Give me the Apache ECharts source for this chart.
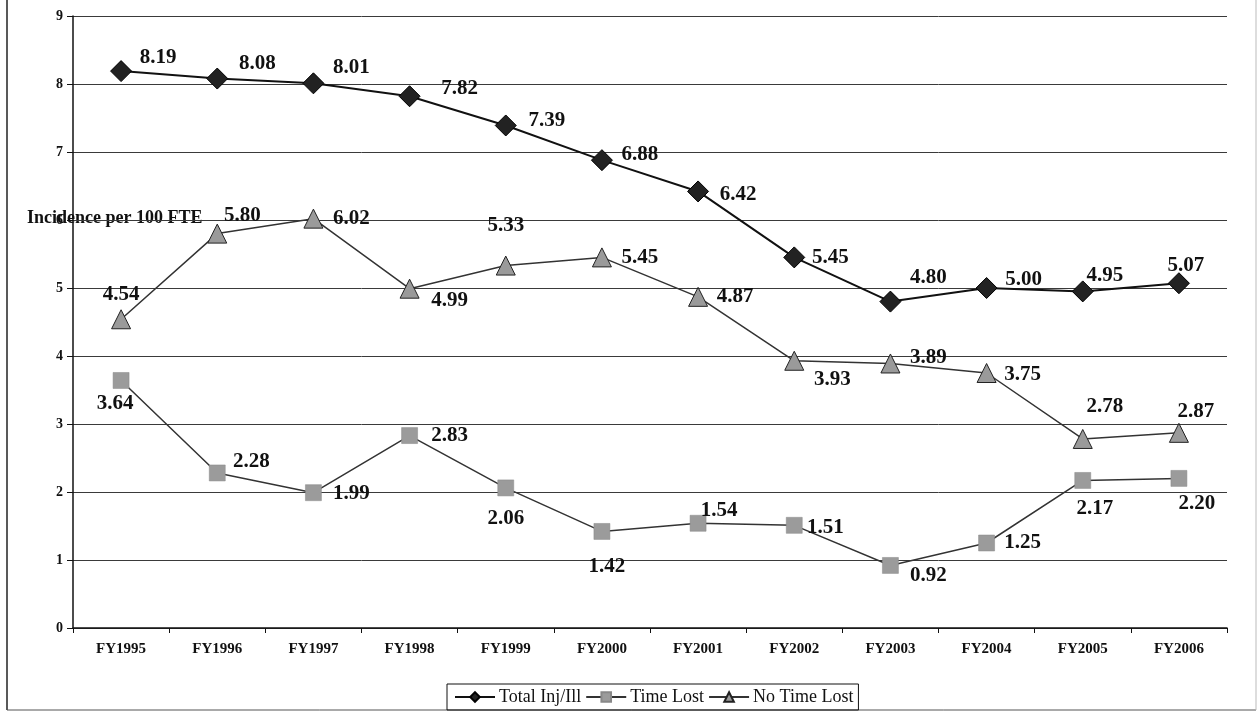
<!DOCTYPE html>
<html>
<head>
<meta charset="utf-8">
<script src="https://cdn.jsdelivr.net/npm/echarts@6/dist/echarts.min.js"></script>
<style>
  html, body { margin: 0; padding: 0; background: #fff; }
  #chart { width: 1257px; height: 719px; }
</style>
</head>
<body>
<div id="chart"></div>
<script>
// Fiscal years on the category axis
const categories = ['FY1995', 'FY1996', 'FY1997', 'FY1998', 'FY1999', 'FY2000',
                    'FY2001', 'FY2002', 'FY2003', 'FY2004', 'FY2005', 'FY2006'];

// Incidence per 100 FTE
const totalInjIll = [8.19, 8.08, 8.01, 7.82, 7.39, 6.88, 6.42, 5.45, 4.80, 5.00, 4.95, 5.07];
const timeLost    = [3.64, 2.28, 1.99, 2.83, 2.06, 1.42, 1.54, 1.51, 0.92, 1.25, 2.17, 2.20];
const noTimeLost  = [4.54, 5.80, 6.02, 4.99, 5.33, 5.45, 4.87, 3.93, 3.89, 3.75, 2.78, 2.87];

const yTicks = [0, 1, 2, 3, 4, 5, 6, 7, 8, 9];

// Where each value label sits relative to its marker (px)
const totalLabelOffsets = [[37, -14], [40, -15], [38, -16], [50, -8], [41, -5], [38, -6],
                           [40, 3], [36, 0], [38, -24], [37, -8], [22, -16], [7, -18]];
const timeLabelOffsets  = [[-6, 23], [34, -11], [38, 1], [40, 0], [0, 31], [5, 35],
                           [21, -13], [31, 2], [38, 10], [36, 0], [12, 28], [18, 25]];
const noTimeLabelOffsets = [[0, -25], [25, -18], [38, 0], [40, 12], [0, -40], [38, 0],
                            [37, 0], [38, 19], [38, -6], [36, 2], [22, -32], [17, -21]];

const SERIF = '"Liberation Serif", "Times New Roman", serif';

function withLabels(values, offsets) {
  return values.map((v, i) => ({
    value: v,
    label: { offset: offsets[i] }
  }));
}

const valueLabel = {
  show: true,
  position: 'inside',
  align: 'center',
  verticalAlign: 'middle',
  fontFamily: SERIF,
  fontSize: 21,
  fontWeight: 'bold',
  color: '#111',
  formatter: p => p.value.toFixed(2)
};

const chart = echarts.init(document.getElementById('chart'), null, { renderer: 'canvas' });

chart.setOption({
  backgroundColor: '#fff',
  animation: false,
  grid: { left: 73, right: 30, top: 16, bottom: 91, containLabel: false },
  xAxis: {
    type: 'category',
    data: categories,
    boundaryGap: true,
    axisLine: { lineStyle: { color: '#111', width: 1.5 } },
    axisTick: { show: true, length: 5, lineStyle: { color: '#111' } },
    axisLabel: {
      fontFamily: SERIF, fontSize: 15, fontWeight: 'bold', color: '#111', margin: 14
    },
    splitLine: { show: false }
  },
  yAxis: {
    type: 'value',
    min: yTicks[0],
    max: yTicks[yTicks.length - 1],
    interval: 1,
    axisLine: { show: true, lineStyle: { color: '#111', width: 1.5 } },
    axisTick: { show: true, length: 6, lineStyle: { color: '#111' } },
    axisLabel: {
      fontFamily: SERIF, fontSize: 14, fontWeight: 'bold', color: '#111', margin: 10
    },
    splitLine: { show: true, lineStyle: { color: '#3a3a3a', width: 1 } }
  },
  legend: {
    left: 447,
    top: 684,
    orient: 'horizontal',
    padding: [4, 5, 4, 7],
    itemGap: 4,
    itemWidth: 40,
    itemHeight: 12,
    borderColor: '#111',
    borderWidth: 1,
    textStyle: { fontFamily: SERIF, fontSize: 18, color: '#111', padding: [0, 0, 0, -1] },
    data: ['Total Inj/Ill', 'Time Lost', 'No Time Lost']
  },
  graphic: [
    {
      type: 'text',
      left: 27,
      top: 209,
      z: 0,
      style: {
        text: 'Incidence per 100 FTE',
        font: 'bold 18px ' + SERIF,
        fill: '#111'
      }
    },
    // page frame
    { type: 'line', shape: { x1: 7, y1: 0, x2: 7, y2: 710 }, style: { stroke: '#222', lineWidth: 1.5 } },
    { type: 'line', shape: { x1: 7, y1: 710, x2: 1256, y2: 710 }, style: { stroke: '#555', lineWidth: 1 } },
    { type: 'line', shape: { x1: 1256, y1: 0, x2: 1256, y2: 710 }, style: { stroke: '#bbb', lineWidth: 1 } }
  ],
  series: [
    {
      name: 'Total Inj/Ill',
      type: 'line',
      data: withLabels(totalInjIll, totalLabelOffsets),
      symbol: 'diamond',
      symbolSize: 21,
      lineStyle: { color: '#111', width: 2 },
      itemStyle: { color: '#222', borderColor: '#000', borderWidth: 1 },
      label: valueLabel,
      z: 3
    },
    {
      name: 'Time Lost',
      type: 'line',
      data: withLabels(timeLost, timeLabelOffsets),
      symbol: 'rect',
      symbolSize: 16,
      lineStyle: { color: '#333', width: 1.5 },
      itemStyle: { color: '#9b9b9b', borderColor: '#888', borderWidth: 0.5 },
      label: valueLabel,
      z: 2
    },
    {
      name: 'No Time Lost',
      type: 'line',
      data: withLabels(noTimeLost, noTimeLabelOffsets),
      symbol: 'triangle',
      symbolSize: 19,
      lineStyle: { color: '#333', width: 1.5 },
      itemStyle: { color: '#9a9a9a', borderColor: '#222', borderWidth: 1 },
      label: valueLabel,
      z: 2
    }
  ]
});
</script>
</body>
</html>
